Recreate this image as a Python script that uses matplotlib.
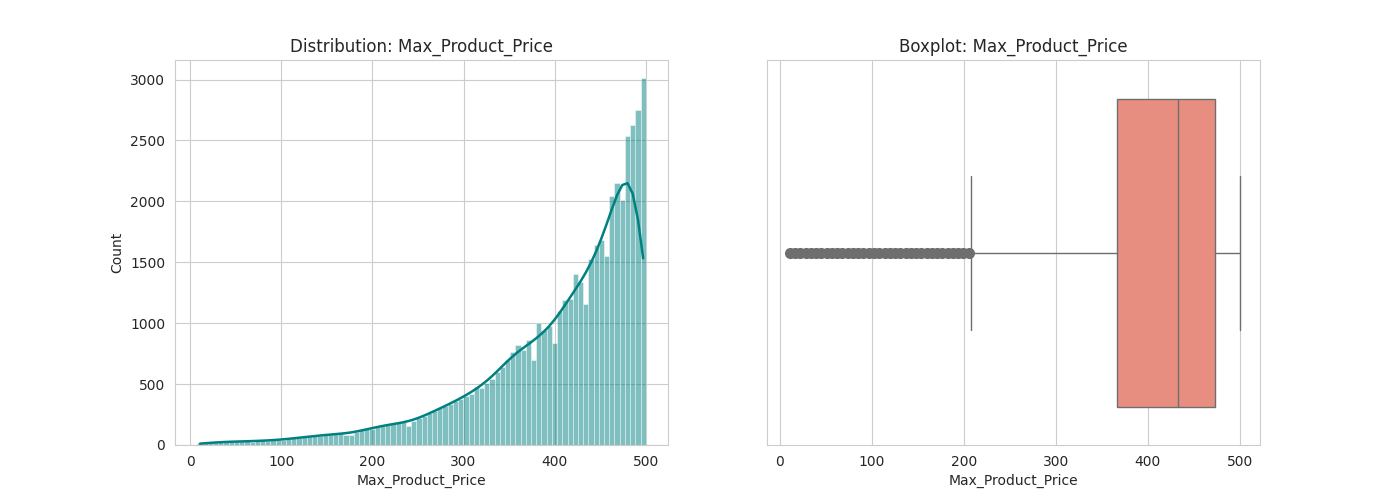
import numpy as np
import matplotlib
matplotlib.use("Agg")
import matplotlib.pyplot as plt
import seaborn as sns

# histogram of Max_Product_Price (86 bins between 8 and 500)
bin_lo = 8
bin_hi = 500
counts = [
    15, 18, 20, 22, 25, 25, 28, 30, 30, 32, 25, 35, 38, 35, 40, 38, 45, 50,
    55, 60, 65, 70, 75, 75, 80, 90, 95, 100, 85, 80, 110, 120, 140, 130, 150,
    160, 170, 175, 180, 190, 160, 200, 220, 240, 260, 280, 300, 320, 340, 360, 380, 400,
    420, 480, 470, 510, 540, 600, 640, 700, 760, 820, 780, 860, 700, 1000, 940, 980, 840,
    1100, 1190, 1200, 1400, 1340, 1160, 1530, 1640, 1680, 1550, 2040, 2150, 2010,
    2540, 2630, 2750, 3010,
]

# boxplot summary
q1, median, q3 = 367, 433, 473
whisker_lo, whisker_hi = 208, 500

sns.set_style("whitegrid")

edges = np.linspace(bin_lo, bin_hi, len(counts) + 1)
centers = (edges[:-1] + edges[1:]) / 2
counts = np.array(counts, dtype=float)

# smooth density curve from the counts (zero padded, like a cut kde)
k = np.arange(-8, 9)
kernel = np.exp(-0.5 * (k / 2.6) ** 2)
kernel /= kernel.sum()
smooth = np.convolve(counts, kernel, mode="same")

fig, (ax1, ax2) = plt.subplots(1, 2, figsize=(14, 5), dpi=100)

ax1.bar(centers, counts, width=edges[1] - edges[0], color="teal", alpha=0.5,
        edgecolor="white", linewidth=0.6)
ax1.plot(centers, smooth, color="teal", linewidth=1.8)
ax1.set_title("Distribution: Max_Product_Price")
ax1.set_xlabel("Max_Product_Price")
ax1.set_ylabel("Count")
ax1.set_xticks([0, 100, 200, 300, 400, 500])

fliers = centers[centers < whisker_lo]
stats = [dict(med=median, q1=q1, q3=q3, whislo=whisker_lo, whishi=whisker_hi,
              fliers=fliers)]
gray = "#6e6e6e"
ax2.bxp(stats, positions=[0], widths=0.8, vert=False, patch_artist=True,
        boxprops=dict(facecolor="#e88e81", edgecolor=gray, linewidth=1),
        medianprops=dict(color=gray, linewidth=1),
        whiskerprops=dict(color=gray, linewidth=1),
        capprops=dict(color=gray, linewidth=1), capwidths=0.4,
        flierprops=dict(marker="o", markersize=7, markerfacecolor=gray,
                        markeredgecolor=gray))
ax2.set_ylim(0.5, -0.5)
ax2.set_yticks([])
ax2.set_xlim(bin_lo - 0.045 * (bin_hi - bin_lo), bin_hi + 0.045 * (bin_hi - bin_lo))
ax2.set_xticks([0, 100, 200, 300, 400, 500])
ax2.set_title("Boxplot: Max_Product_Price")
ax2.set_xlabel("Max_Product_Price")

fig.savefig("out.png")
